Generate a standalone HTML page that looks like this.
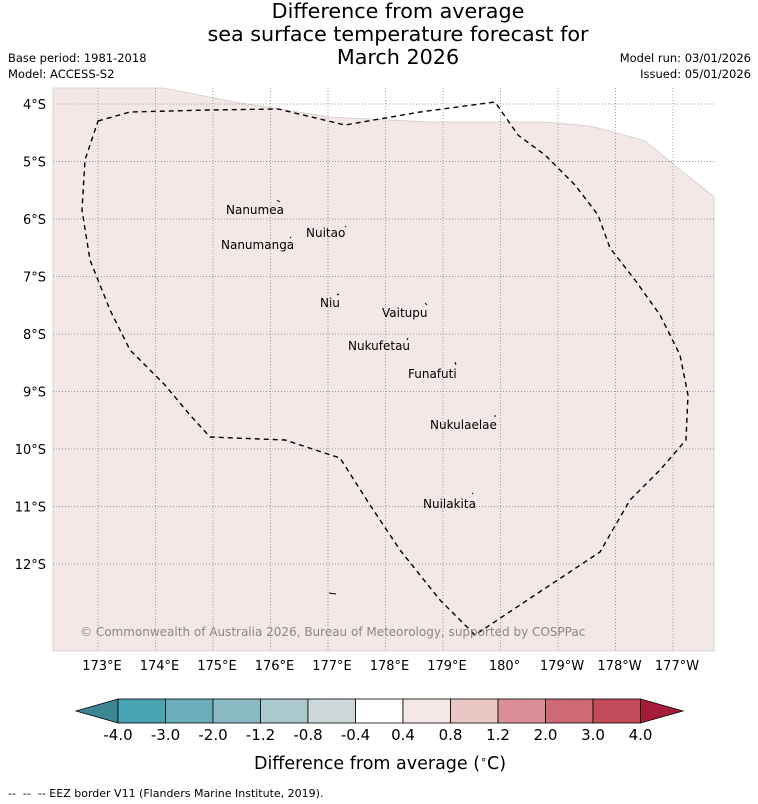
<!DOCTYPE html>
<html><head><meta charset="utf-8"><style>
body{margin:0;background:#fff;width:758px;height:804px;overflow:hidden;font-family:"DejaVu Sans","Liberation Sans",sans-serif}
svg{display:block}
</style></head><body>
<svg width="758" height="804" font-family="DejaVu Sans, Liberation Sans, sans-serif">
<g text-anchor="middle" font-size="20.7" fill="#000">
<text x="398" y="18">Difference from average</text>
<text x="398" y="41">sea surface temperature forecast for</text>
<text x="398" y="64">March 2026</text>
</g>
<g font-size="11.5" fill="#000">
<text x="8" y="62">Base period: 1981-2018</text>
<text x="8" y="78">Model: ACCESS-S2</text>
<text x="751" y="62" text-anchor="end">Model run: 03/01/2026</text>
<text x="751" y="78" text-anchor="end">Issued: 05/01/2026</text>
</g>
<g>
<path d="M53,88 L163,88 L240,103 L330,117 L430,122 L543,122 L590,126 L617,133 L645,141 L672,163 L714,197 L714,651 L53,651 Z" fill="#f4e8e7" stroke="#ccc" stroke-width="0.8"/>
<g id="grid" stroke="#777" stroke-width="0.7" stroke-dasharray="1,2"></g>
<path fill="none" stroke="#000" stroke-width="1.4" stroke-dasharray="5,4" d="M98,121 L130,112 L210,110 L278,109 L345,125 L420,112 L495,102 L518,135 L545,155 L575,185 L598,215 L610,248 L635,280 L660,315 L680,355 L688,395 L686,440 L660,470 L630,500 L600,552 L535,595 L475,635 L440,600 L400,550 L370,505 L340,458 L285,440 L210,437 L190,415 L165,385 L130,350 L110,310 L90,260 L82,210 L85,160 Z"/>
<g font-size="12" fill="#000">
<text x="226" y="214">Nanumea</text><text x="306" y="237">Nuitao</text><text x="221" y="249">Nanumanga</text>
<text x="320" y="307">Niu</text><text x="382" y="317">Vaitupu</text><text x="348" y="350">Nukufetau</text>
<text x="408" y="378">Funafuti</text><text x="430" y="429">Nukulaelae</text><text x="423" y="508">Nuilakita</text>
</g>
<g stroke="#000" stroke-width="1">
<path d="M277,200 l3,2"/><path d="M345,227 l1,-1"/><path d="M290,238 l1,-1"/><path d="M337,295 l2,-1"/><path d="M425,303 l2,2"/><path d="M408,338 l-1,2"/><path d="M455,362 l1,3"/><path d="M495,415 l0,2"/><path d="M472,494 l1,-1"/><path d="M329,593 l7,1"/>
</g>
<text x="80" y="636" font-size="12" fill="#888">© Commonwealth of Australia 2026, Bureau of Meteorology, supported by COSPPac</text>
</g>
<g id="ylab" font-size="13" fill="#000" text-anchor="end"></g>
<g id="xlab" font-size="13" fill="#000" text-anchor="middle"></g>
<g id="cbar"></g>
<text x="380" y="769" font-size="17.5" text-anchor="middle">Difference from average (<tspan font-size="11" dy="-6">∘</tspan><tspan dy="6">C)</tspan></text>
<text x="8" y="797" font-size="11" xml:space="preserve">--  --  -- EEZ border V11 (Flanders Marine Institute, 2019).</text>
</svg>
<script>
const lats=["4°S","5°S","6°S","7°S","8°S","9°S","10°S","11°S","12°S"];
const lons=["173°E","174°E","175°E","176°E","177°E","178°E","179°E","180°","179°W","178°W","177°W"];
const cbTicks=["-4.0","-3.0","-2.0","-1.2","-0.8","-0.4","0.4","0.8","1.2","2.0","3.0","4.0"];
const cbColors=["#4aa3b2","#6aadbb","#89bac4","#a9c9cd","#ccd8da","#ffffff","#f4e8e7","#e9c7c4","#d98f95","#cd6a73","#c34a58"];
const NS="http://www.w3.org/2000/svg";
function mk(t,a,p){const e=document.createElementNS(NS,t);for(const k in a)e.setAttribute(k,a[k]);p.appendChild(e);return e;}
const yLat=i=>104+i*57.5, xLon=i=>98+i*57.5;
const g=document.getElementById('grid'),yl=document.getElementById('ylab'),xl=document.getElementById('xlab');
lats.forEach((l,i)=>{const y=yLat(i);
 const ln=mk('line',{x1:53,x2:714,y1:y,y2:y},g);
 
 
 const t=mk('text',{x:46,y:y+5},yl);t.textContent=l;
 
 });
lons.forEach((l,i)=>{const x=xLon(i);
 const ln=mk('line',{x1:x,x2:x,y1:88,y2:651},g);
 
 
 const t=mk('text',{x:x+4,y:670},xl);t.textContent=l;
 
 });
const cb=document.getElementById('cbar');
const x0=118,w=47.5,y0=699,h=24;
const lt=mk('polygon',{points:`76,711 ${x0},${y0} ${x0},${y0+h}`,fill:"#3c8592",stroke:"#000","stroke-width":0.8},cb);


cbColors.forEach((c,i)=>{const r=mk('rect',{x:x0+i*w,y:y0,width:w,height:h,fill:c,stroke:"#000","stroke-width":0.8},cb);
 
 });
const xe=x0+cbColors.length*w;
const rt=mk('polygon',{points:`${xe},${y0} 683,711 ${xe},${y0+h}`,fill:"#a51c3a",stroke:"#000","stroke-width":0.8},cb);


cbTicks.forEach((t,i)=>{const e=mk('text',{x:x0+i*w,y:740,"font-size":15,"text-anchor":"middle"},cb);e.textContent=t;
 
 });
</script>
</body></html>
